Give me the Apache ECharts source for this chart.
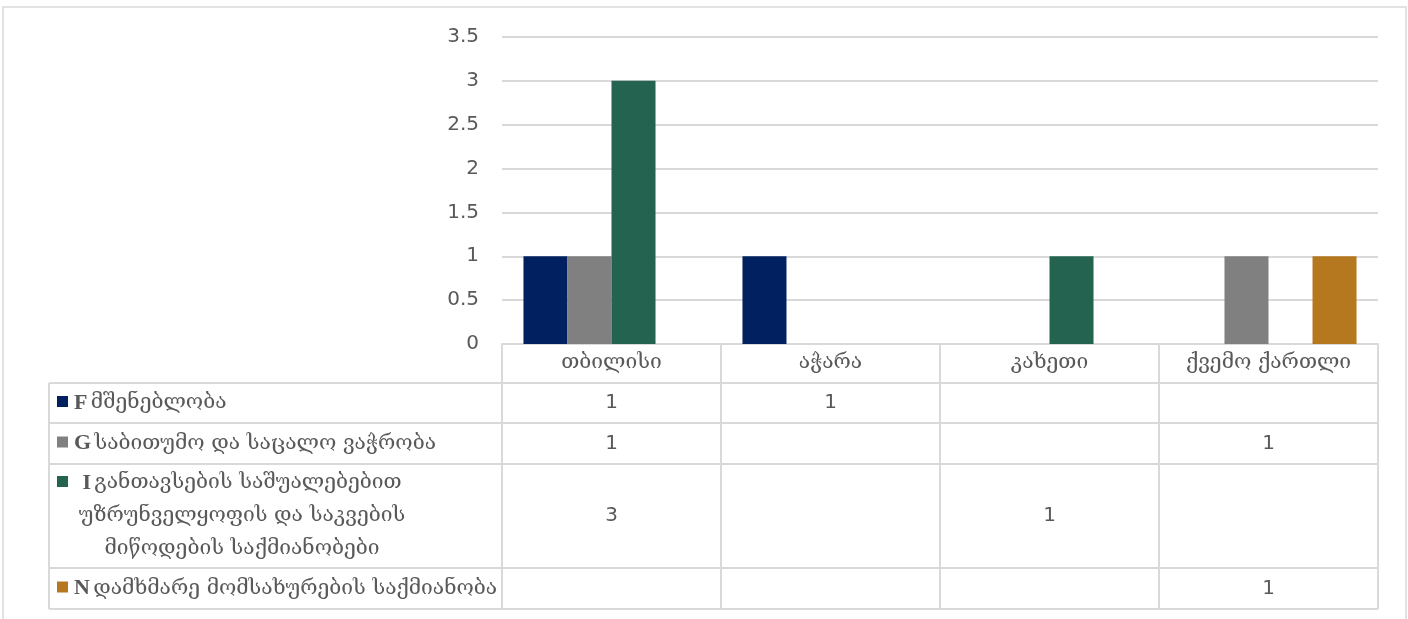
<!DOCTYPE html>
<html>
<head>
<meta charset="utf-8">
<script src="https://cdn.jsdelivr.net/npm/echarts@6/dist/echarts.min.js"></script>
<style>
html,body{margin:0;padding:0;background:#fff;}
#c{width:1408px;height:619px;}
</style>
</head>
<body>
<div id="c"></div>
<script>
const categories = ['თბილისი', 'აჭარა', 'კახეთი', 'ქვემო ქართლი'];
const seriesCodes = ['F', 'G', 'I', 'N'];
const seriesNames = [
  'მშენებლობა',
  'საბითუმო და საცალო ვაჭრობა',
  'განთავსების საშუალებებით\nუზრუნველყოფის და საკვების\nმიწოდების საქმიანობები',
  'დამხმარე მომსახურების საქმიანობა'
];
const valuesF = [1, 1, null, null];
const valuesG = [1, null, null, 1];
const valuesI = [3, null, 1, null];
const valuesN = [null, null, null, 1];
const yTicks = [0, 0.5, 1, 1.5, 2, 2.5, 3, 3.5];

const seriesValues = [valuesF, valuesG, valuesI, valuesN];
const colors = ['#002060', '#808080', '#236350', '#B5781F'];
const txt = '#595959';
const lineC = '#D9D9D9';
const geoFont = '"DejaVu Serif", "DejaVu Sans", serif';
const numFont = '"DejaVu Sans", sans-serif';

// layout
const W = 1408, H = 619;
const plotL = 502, plotR = 1378, plotT = 37, plotB = 344;
const tableL = 49;
const rowLines = [383, 423, 464, 568, 609];

const chart = echarts.init(document.getElementById('c'), null, {renderer: 'canvas'});

const rich = {
  b: {fontFamily: '"Liberation Serif", serif', fontWeight: 'bold', fontSize: 22, fill: txt},
  n: {fontFamily: geoFont, fontSize: 21, fill: txt}
};

const graphics = [];
// outer border
graphics.push({type: 'rect', shape: {x: 3, y: 7, width: 1403, height: 640}, style: {fill: 'none', stroke: lineC, lineWidth: 1.5}, silent: true});
// table horizontal lines
rowLines.forEach(y => {
  graphics.push({type: 'line', shape: {x1: tableL, y1: y, x2: plotR, y2: y}, style: {stroke: lineC, lineWidth: 2}, silent: true});
});
// left vertical line of table
graphics.push({type: 'line', shape: {x1: tableL, y1: rowLines[0], x2: tableL, y2: rowLines[rowLines.length - 1]}, style: {stroke: lineC, lineWidth: 2}, silent: true});

const colW = (plotR - plotL) / categories.length;
seriesValues.forEach((vals, si) => {
  const y0 = rowLines[si], y1 = rowLines[si + 1];
  const cy = (y0 + y1) / 2;
  const isMulti = seriesNames[si].indexOf('\n') >= 0;
  if (!isMulti) {
    graphics.push({type: 'rect', shape: {x: 57, y: cy - 7, width: 11, height: 11}, style: {fill: colors[si]}, silent: true});
    graphics.push({type: 'text', x: 74, y: cy, silent: true, style: {
      text: '{b|' + seriesCodes[si] + '} {n|' + seriesNames[si] + '}',
      verticalAlign: 'middle', align: 'left', rich: rich
    }});
  } else {
    const lines = seriesNames[si].split('\n');
    const lh = 33;
    const startY = cy - lh * (lines.length - 1) / 2;
    graphics.push({type: 'rect', shape: {x: 57, y: startY - 7, width: 11, height: 11}, style: {fill: colors[si]}, silent: true});
    lines.forEach((ln, li) => {
      const t = li === 0 ? '{b|' + seriesCodes[si] + '} {n|' + ln + '}' : '{n|' + ln + '}';
      graphics.push({type: 'text', x: 242, y: startY + li * lh, silent: true, style: {
        text: t, verticalAlign: 'middle', align: 'center', rich: rich
      }});
    });
  }
  vals.forEach((v, ci) => {
    if (v === null) return;
    graphics.push({type: 'text', x: plotL + colW * (ci + 0.5), y: cy, silent: true, style: {
      text: String(v), align: 'center', verticalAlign: 'middle',
      fontFamily: numFont, fontSize: 20, fill: txt
    }});
  });
});

const option = {
  animation: false,
  backgroundColor: '#fff',
  grid: {left: plotL, right: W - plotR, top: plotT, bottom: H - plotB, containLabel: false},
  xAxis: {
    type: 'category',
    data: categories,
    axisLine: {show: true, lineStyle: {color: lineC, width: 2}},
    axisTick: {show: true, interval: 0, length: rowLines[rowLines.length - 1] - plotB, lineStyle: {color: lineC, width: 2}},
    axisLabel: {interval: 0, margin: 8, color: txt, fontFamily: geoFont, fontSize: 21},
    splitLine: {show: false}
  },
  yAxis: {
    type: 'value',
    min: yTicks[0],
    max: yTicks[yTicks.length - 1],
    interval: 0.5,
    axisLine: {show: false},
    axisTick: {show: false},
    axisLabel: {margin: 23, color: txt, fontFamily: numFont, fontSize: 20},
    splitLine: {show: true, lineStyle: {color: lineC, width: 2}}
  },
  series: seriesValues.map((vals, si) => ({
    type: 'bar',
    name: seriesCodes[si] + ' ' + seriesNames[si].replace(/\n/g, ' '),
    data: vals,
    itemStyle: {color: colors[si]},
    barGap: '0%',
    barCategoryGap: '19.6%'
  })),
  graphic: graphics
};
chart.setOption(option);
</script>
</body>
</html>
